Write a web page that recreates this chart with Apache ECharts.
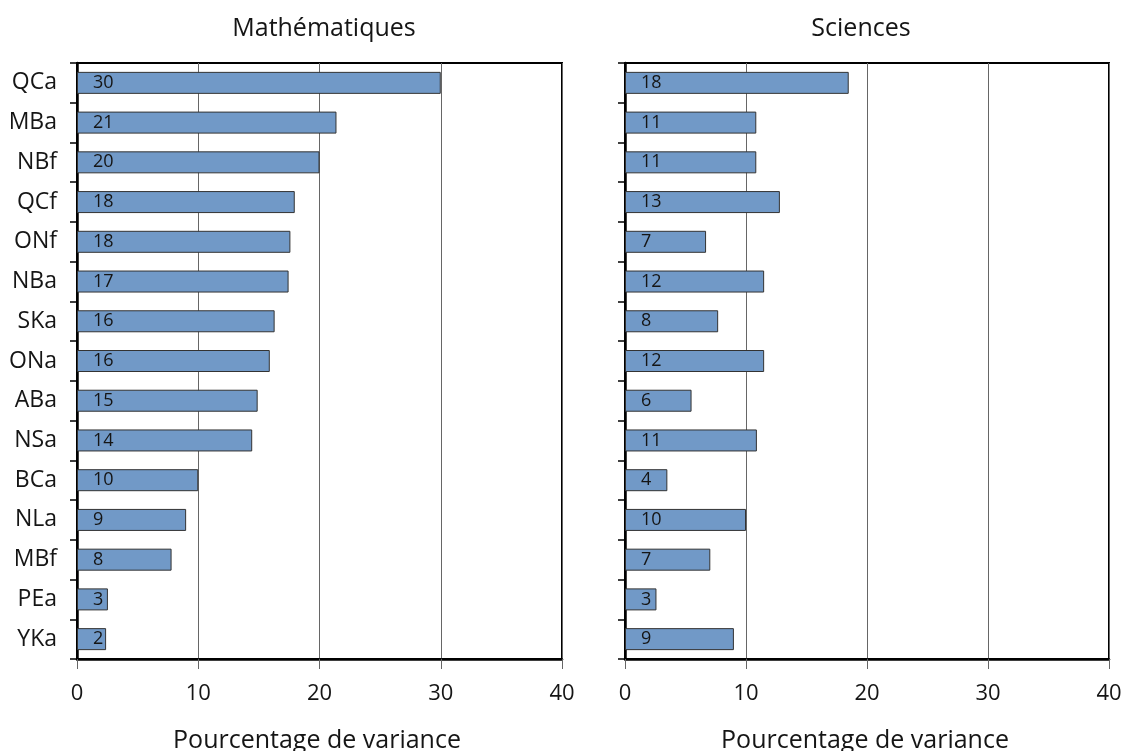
<!DOCTYPE html>
<html>
<head>
<meta charset="utf-8">
<script src="https://cdn.jsdelivr.net/npm/echarts@6/dist/echarts.min.js"></script>
<style>
  html, body { margin: 0; padding: 0; background: #ffffff; }
  #chart { width: 1125px; height: 751px; }
</style>
</head>
<body>
<div id="chart"></div>
<script>
// Provinces / systems, listed top to bottom
const categories = ['QCa', 'MBa', 'NBf', 'QCf', 'ONf', 'NBa', 'SKa', 'ONa', 'ABa', 'NSa', 'BCa', 'NLa', 'MBf', 'PEa', 'YKa'];

// Percentage of variance between schools
const mathValues = [30.0, 21.4, 20.0, 17.96, 17.6, 17.45, 16.3, 15.9, 14.9, 14.45, 10.0, 9.0, 7.8, 2.55, 2.4];
const scienceValues = [18.49, 10.85, 10.85, 12.8, 6.7, 11.5, 7.7, 11.5, 5.5, 10.9, 3.5, 10.0, 7.05, 2.6, 9.0];

const panelTitles = ['Mathématiques', 'Sciences'];
const axisTitle = 'Pourcentage de variance';
const xTicks = [0, 10, 20, 30, 40];

const FONT = '"Open Sans", "Noto Sans", sans-serif';
const TEXT = '#151515';
const BAR_FILL = '#7199c7';
const BAR_EDGE = '#333333';

const grids = [
  { left: 77, top: 63, width: 485, height: 596 },
  { left: 625, top: 63, width: 484, height: 596 }
];

function xAxisFor(i) {
  return {
    type: 'value', gridIndex: i,
    min: xTicks[0], max: xTicks[xTicks.length - 1], interval: xTicks[1] - xTicks[0],
    axisLine: { show: true, onZero: false, lineStyle: { color: '#000', width: 2.5 } },
    axisTick: { show: true, length: 10, lineStyle: { color: '#666', width: 1 } },
    axisLabel: { margin: 24, fontSize: 22, color: TEXT, fontFamily: FONT },
    splitLine: { show: true, lineStyle: { color: '#666', width: 1 } }
  };
}

function yAxisFor(i) {
  return {
    type: 'category', gridIndex: i, data: categories, inverse: true,
    axisLine: { show: true, lineStyle: { color: '#000', width: 2.5 } },
    axisTick: { show: true, length: 7, lineStyle: { color: '#000', width: 1.5 } },
    axisLabel: { show: i === 0, margin: 20, fontSize: 23, color: TEXT, fontFamily: FONT },
    splitLine: { show: false }
  };
}

function barSeries(i, values) {
  return {
    type: 'bar', xAxisIndex: i, yAxisIndex: i, data: values,
    barWidth: 22,
    itemStyle: { color: BAR_FILL, borderColor: BAR_EDGE, borderWidth: 1 },
    label: {
      show: true, position: 'insideLeft', distance: 16,
      fontSize: 18, color: TEXT, fontFamily: FONT,
      formatter: p => String(Math.round(p.value))
    },
    z: 3
  };
}

const titleStyle = { fontSize: 25, fontWeight: 'normal', color: TEXT, fontFamily: FONT };

const chart = echarts.init(document.getElementById('chart'), null, { renderer: 'canvas' });
chart.setOption({
  backgroundColor: '#ffffff',
  animation: false,
  title: [
    { text: panelTitles[0], left: 319, top: 11, textAlign: 'center', textStyle: titleStyle },
    { text: panelTitles[1], left: 856, top: 11, textAlign: 'center', textStyle: titleStyle },
    { text: axisTitle, left: 312, top: 723, textAlign: 'center', textStyle: titleStyle },
    { text: axisTitle, left: 860, top: 723, textAlign: 'center', textStyle: titleStyle }
  ],
  grid: grids.map(g => Object.assign({ show: true, borderColor: '#000', borderWidth: 2, backgroundColor: 'transparent', containLabel: false }, g)),
  xAxis: [xAxisFor(0), xAxisFor(1)],
  yAxis: [yAxisFor(0), yAxisFor(1)],
  series: [barSeries(0, mathValues), barSeries(1, scienceValues)]
});
</script>
</body>
</html>
